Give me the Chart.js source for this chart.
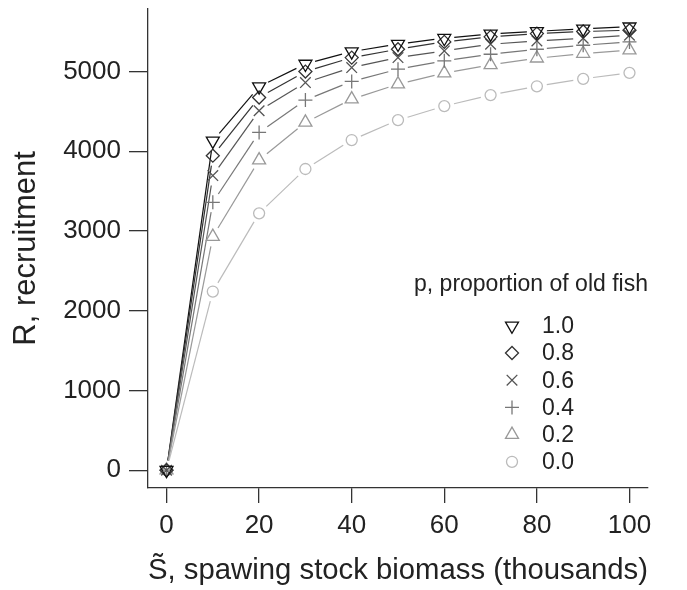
<!DOCTYPE html>
<html>
<head>
<meta charset="utf-8">
<script src="https://cdn.jsdelivr.net/npm/chart.js"></script>
<style>
html, body { margin: 0; padding: 0; background: #fff; }
#wrap { width: 687px; height: 590px; }
</style>
</head>
<body>
<div id="wrap"><canvas id="srChart"></canvas></div>
<script>
// spawning stock biomass (thousands)
var biomass = [0, 10, 20, 30, 40, 50, 60, 70, 80, 90, 100];

// recruitment for each proportion of old fish
var recP10 = [0, 4130, 4810, 5095, 5250, 5345, 5418, 5472, 5505, 5535, 5562];
var recP08 = [0, 3945, 4675, 5000, 5175, 5280, 5372, 5435, 5476, 5502, 5518];
var recP06 = [0, 3695, 4508, 4862, 5050, 5175, 5259, 5343, 5384, 5418, 5455];
var recP04 = [0, 3360, 4236, 4642, 4876, 5030, 5134, 5217, 5280, 5330, 5372];
var recP02 = [0, 2930, 3890, 4362, 4654, 4842, 4980, 5084, 5167, 5226, 5268];
var recP00 = [0, 2241, 3222, 3778, 4141, 4391, 4567, 4705, 4815, 4909, 4984];

var pLabels = ['1.0', '0.8', '0.6', '0.4', '0.2', '0.0'];
var xTicks = [0, 20, 40, 60, 80, 100];
var yTicks = [0, 1000, 2000, 3000, 4000, 5000];

var FONT = '"Liberation Sans", Arial, Helvetica, sans-serif';

function toXY(ys) {
    return biomass.map(function(x, i) { return { x: x, y: ys[i] }; });
}

function makeSet(label, ys, color, style, radius, rotation) {
    return {
        label: label,
        data: toXY(ys),
        showLine: false,
        borderColor: color,
        backgroundColor: 'rgba(0,0,0,0)',
        pointStyle: style,
        pointRadius: radius,
        pointHoverRadius: radius,
        pointRotation: rotation || 0,
        pointBorderWidth: 1.3,
        pointBorderColor: color,
        pointBackgroundColor: 'rgba(0,0,0,0)'
    };
}

// lines between points with a gap round each marker (like R type="b")
var gapLines = {
    id: 'gapLines',
    beforeDatasetsDraw: function(chart) {
        var ctx = chart.ctx;
        var gap = 10;
        chart.data.datasets.forEach(function(ds, i) {
            var pts = chart.getDatasetMeta(i).data;
            ctx.save();
            ctx.strokeStyle = ds.borderColor;
            ctx.lineWidth = 1.2;
            for (var k = 1; k < pts.length; k++) {
                var a = pts[k - 1], b = pts[k];
                var dx = b.x - a.x, dy = b.y - a.y;
                var len = Math.sqrt(dx * dx + dy * dy);
                if (len <= 2 * gap) continue;
                var ux = dx / len, uy = dy / len;
                ctx.beginPath();
                ctx.moveTo(a.x + ux * gap, a.y + uy * gap);
                ctx.lineTo(b.x - ux * gap, b.y - uy * gap);
                ctx.stroke();
            }
            ctx.restore();
        });
    }
};

// legend box inside the plot, bottom right
var pLegend = {
    id: 'pLegend',
    afterDraw: function(chart) {
        var ctx = chart.ctx;
        var area = chart.chartArea;
        var cx = area.right - 117;   // centre of title
        var symX = area.right - 136;
        var txtX = area.right - 106;
        var y0 = area.top + 276;
        ctx.save();
        ctx.fillStyle = '#222';
        ctx.font = '23px ' + FONT;
        ctx.textAlign = 'center';
        ctx.textBaseline = 'middle';
        ctx.fillText('p, proportion of old fish', cx, y0);
        ctx.textAlign = 'left';
        chart.data.datasets.forEach(function(ds, i) {
            var y = y0 + 41 + i * 27.2;
            ctx.strokeStyle = ds.borderColor;
            ctx.fillStyle = 'rgba(0,0,0,0)';
            ctx.lineWidth = 1.3;
            Chart.helpers.drawPoint(ctx, {
                pointStyle: ds.pointStyle,
                radius: ds.pointRadius,
                rotation: ds.pointRotation,
                borderWidth: 1.3
            }, symX, y);
            ctx.fillStyle = '#222';
            ctx.fillText(ds.label, txtX, y + 1);
        });
        ctx.restore();
    }
};

var ctx = document.getElementById('srChart').getContext('2d');
var chart = new Chart(ctx, {
    type: 'scatter',
    data: {
        datasets: [
            makeSet(pLabels[0], recP10, '#111111', 'triangle', 7.5, 180),
            makeSet(pLabels[1], recP08, '#333333', 'rectRot', 6.5),
            makeSet(pLabels[2], recP06, '#555555', 'crossRot', 7.5),
            makeSet(pLabels[3], recP04, '#777777', 'cross', 7),
            makeSet(pLabels[4], recP02, '#999999', 'triangle', 7.5),
            makeSet(pLabels[5], recP00, '#bbbbbb', 'circle', 5.5)
        ]
    },
    options: {
        responsive: true,
        maintainAspectRatio: false,
        animation: false,
        layout: { padding: { top: 8, right: 39, left: 0, bottom: 0 } },
        plugins: {
            legend: { display: false },
            tooltip: { enabled: false }
        },
        scales: {
            x: {
                type: 'linear',
                min: -4,
                max: 104,
                afterBuildTicks: function(s) { s.ticks = xTicks.map(function(v) { return { value: v }; }); },
                afterFit: function(s) { s.height = 102; s.paddingLeft = 0; s.paddingRight = 0; },
                grid: { drawOnChartArea: false, drawTicks: true, tickLength: 15, color: '#333', lineWidth: 1.3 },
                border: { display: true, color: '#333', width: 1.3 },
                ticks: {
                    padding: 7, color: '#222', font: { family: FONT, size: 26 }, maxRotation: 0,
                    callback: function(v) { return String(v); }
                },
                title: {
                    display: true,
                    text: 'S\u0303, spawing stock biomass (thousands)',
                    color: '#222',
                    font: { family: FONT, size: 30 },
                    padding: { top: 0, bottom: 1 }
                }
            },
            y: {
                type: 'linear',
                min: -223,
                max: 5787,
                afterBuildTicks: function(s) { s.ticks = yTicks.map(function(v) { return { value: v }; }); },
                afterFit: function(s) { s.width = 148; s.paddingTop = 0; s.paddingBottom = 0; },
                grid: { drawOnChartArea: false, drawTicks: true, tickLength: 19, color: '#333', lineWidth: 1.3 },
                border: { display: true, color: '#333', width: 1.3 },
                ticks: {
                    padding: 8, color: '#222', font: { family: FONT, size: 26 },
                    callback: function(v) { return String(v); }
                },
                title: {
                    display: true,
                    text: 'R, recruitment',
                    color: '#222',
                    font: { family: FONT, size: 31 },
                    padding: { top: 8, bottom: 0 }
                }
            }
        }
    },
    plugins: [gapLines, pLegend]
});
</script>
</body>
</html>
